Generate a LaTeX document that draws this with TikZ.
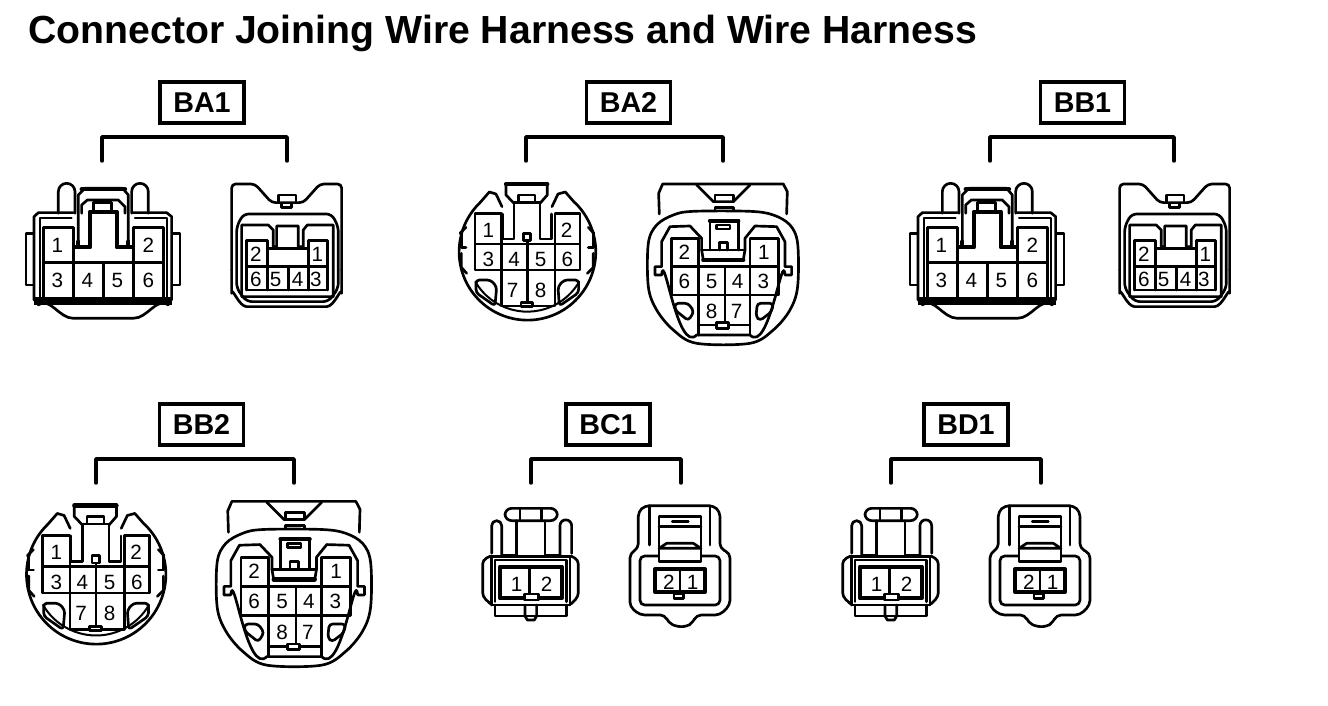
\documentclass[tikz,border=0pt]{standalone}
\usepackage{fontspec}
\setmainfont{Liberation Sans}
\tikzstyle{part}=[line width=2pt, line join=round, line cap=round]
\tikzstyle{fine}=[line width=1.5pt, line join=round, line cap=round]
\tikzstyle{heavy}=[line width=3.2pt, line join=round, line cap=round]
\tikzstyle{pinlabel}=[inner sep=0pt, font=\fontsize{15.5}{16}\selectfont]
\tikzstyle{harnessbox}=[draw, line width=2.6pt, minimum width=63pt, minimum height=30.5pt, inner sep=0pt, font=\fontsize{21.5}{22}\bfseries\selectfont]
\tikzstyle{bracket}=[line width=2.6pt, line cap=round, line join=round]

% label box and bracket above each pair
\newcommand{\harness}[6]{
    \node[harnessbox] (#1box) at (#3, #4) {#2};
    \coordinate (#1l) at (#5, #4+58.5);
    \coordinate (#1r) at (#6, #4+58.5);
    \draw[bracket] (#1l) -- ++(0, -24) -| (#1r);
}

% six pin plug
\newcommand{\plugsix}[3]{
    \begin{scope}[shift={(#2, #3)}, scale=0.3333]
        \draw[part] (145,430) -- (145,365) arc[start angle=180, end angle=360, radius=25] -- (195,430);
        \draw[part] (365,430) -- (365,365) arc[start angle=180, end angle=360, radius=25] -- (415,430);
        \draw[part] (205,515) -- (205,375) -- (225,355) -- (338,355) -- (355,375) -- (355,515);
        \draw[heavy] (215,358) -- (345,358);
        \draw[part] (215,430) -- (215,405) -- (232,390) -- (325,390) -- (345,410) -- (345,430);
        \draw[part] (250,420) -- (250,397) -- (305,397) -- (305,420);
        \draw[part] (72,690) -- (72,440) -- (85,428) -- (190,428);
        \draw[part] (370,428) -- (470,428) -- (485,440) -- (485,690);
        \draw[fine] (90,680) -- (90,445) -- (185,445);
        \draw[fine] (375,445) -- (470,445) -- (470,680);
        \draw[part] (68,490) -- (48,490) -- (48,645) -- (68,645);
        \draw[part] (490,490) -- (510,490) -- (510,645) -- (490,645);
        \draw[part] (100,680) -- (100,472) -- (190,472) -- (190,680);
        \draw[part] (370,680) -- (370,472) -- (460,472) -- (460,680);
        \draw[part] (100,578) -- (460,578);
        \draw[part] (280,578) -- (280,680);
        \draw[heavy] (195,532) -- (240,532) -- (240,425) -- (320,425) -- (320,532) -- (365,532);
        \draw[heavy] (205,515) -- (205,530);
        \draw[heavy] (355,515) -- (355,530);
        \draw[line width=6pt] (72,692) -- (485,692);
        \draw[part] (85,705) to[out=35,in=180] (190,745) -- (370,745) to[out=0,in=145] (475,705);
        \foreach \n/\a/\b in {1/142/527, 2/415/527, 3/142/632, 4/232/632, 5/322/632, 6/415/632}
            \node[pinlabel] (#1\n) at (\a, \b) {\n};
    \end{scope}
}

% six pin socket
\newcommand{\socksix}[3]{
    \begin{scope}[shift={(#2, #3)}, scale=0.3333]
        \draw[part, rounded corners=3pt] (665,600) -- (665,342) -- (735,342) -- (785,398) -- (880,398) -- (930,342) -- (995,342) -- (995,600);
        \draw[part] (665,600) -- (665,670) to[out=90,in=180] (710,710) -- (950,710) to[out=0,in=90] (995,670) -- (995,600);
        \draw[part] (805,396) -- (805,375) -- (858,375) -- (858,396);
        \draw[part] (815,400) -- (815,412) -- (845,412) -- (845,400);
        \draw[part, rounded corners=4pt] (680,560) -- (680,470) -- (700,432) -- (965,432) -- (985,470) -- (985,655) -- (955,695) -- (710,695) -- (680,655) -- cycle;
        \draw[part] (695,680) -- (695,465) -- (775,465) -- (790,480) -- (790,530) -- (800,530) -- (800,468) -- (865,468) -- (865,530) -- (880,530) -- (880,480) -- (892,465) -- (970,465) -- (970,680) -- cycle;
        \draw[part] (710,660) -- (710,512) -- (772,512) -- (772,660);
        \draw[part] (895,660) -- (895,512) -- (952,512) -- (952,660);
        \draw[part] (710,660) -- (952,660);
        \draw[part] (710,590) -- (952,590);
        \draw[part] (772,535) -- (895,535);
        \draw[part] (835,590) -- (835,660);
        \foreach \n/\a/\b in {2/738/552, 1/922/552, 6/738/628, 5/797/628, 4/863/628, 3/918/628}
            \node[pinlabel] (#1\n) at (\a, \b) {\n};
    \end{scope}
}

% eight pin round plug
\newcommand{\plugeight}[4]{
    \begin{scope}[shift={(#2, #3)}, scale=#4*0.3333]
        \draw[part] (120,98) arc[start angle=226, end angle=-46, radius=205];
        \draw[fine] (106,335) arc[start angle=150, end angle=30, radius=180];
        \draw[part] (120,98) -- (148,66) -- (168,72) -- (186,110);
        \draw[part] (404,98) -- (376,66) -- (354,72) -- (336,110);
        \draw[part] (60,190) -- (78,172);
        \draw[part] (64,190) -- (64,232) -- (78,232);
        \draw[part] (64,250) -- (64,292) -- (80,310);
        \draw[part] (462,190) -- (445,172);
        \draw[part] (460,190) -- (460,232) -- (445,232);
        \draw[part] (460,250) -- (460,292) -- (442,310);
        \draw[part] (198,40) -- (198,75) -- (222,100);
        \draw[part] (322,40) -- (322,75) -- (300,100);
        \draw[heavy] (198,43) -- (322,43);
        \draw[part] (235,95) -- (235,75) -- (285,75) -- (285,95);
        \draw[part] (188,132) -- (188,207) -- (222,207) -- (222,97) -- (300,97) -- (300,207) -- (335,207) -- (335,132);
        \draw[part] (105,222) -- (105,130) -- (185,130) -- (185,222);
        \draw[part] (345,222) -- (345,130) -- (420,130) -- (420,222);
        \draw[part] (105,222) -- (420,222) -- (420,300) -- (105,300) -- cycle;
        \draw[part] (185,222) -- (185,408) -- (345,408) -- (345,222);
        \draw[part] (262,215) -- (262,398);
        \draw[part] (250,190) rectangle (272,212);
        \draw[part, fill=white] (243,398) rectangle (278,410);
        \draw[part, rounded corners=2.5pt] (108,350) -- (108,330) -- (152,330) -- (170,350) -- (165,408) -- (108,368) -- cycle;
        \draw[part, rounded corners=2.5pt] (416,350) -- (416,330) -- (372,330) -- (354,350) -- (358,408) -- (416,368) -- cycle;
        \foreach \n/\a/\b in {1/145/180, 2/380/180, 3/145/268, 4/222/268, 5/302/268, 6/382/268, 7/218/360, 8/302/360}
            \node[pinlabel] (#1\n) at (\a, \b) {\n};
    \end{scope}
}

% eight pin round socket
\newcommand{\sockeight}[4]{
    \begin{scope}[shift={(#2, #3)}, scale=#4*0.3333]
        \draw[part] (658,132) -- (656,70) -- (668,42) -- (1030,42) -- (1042,65) -- (1040,132);
        \draw[part] (770,45) -- (820,95) -- (880,95) -- (930,45);
        \draw[part] (825,95) -- (825,75) -- (880,75) -- (880,95);
        \draw[part] (825,122) -- (825,112) -- (880,112) -- (880,122);
        \draw[part] plot[smooth cycle, tension=0.55] coordinates {(625,220) (650,165) (700,135) (760,124) (930,124) (1000,135) (1050,165) (1073,220) (1073,350) (1050,420) (1000,480) (930,520) (770,520) (700,480) (650,420) (625,350)};
        \draw[part] (785,240) -- (785,205) -- (750,168) -- (690,170) -- (665,215) -- (665,290) -- (645,290) -- (645,315) -- (665,315) to[out=85,in=-135] (770,495) -- (930,495) to[out=-45,in=95] (1035,315) -- (1055,315) -- (1055,290) -- (1035,290) -- (1035,215) -- (1010,170) -- (945,168) -- (915,205) -- (915,240);
        \draw[part] (695,290) -- (695,205) -- (775,205) -- (775,290);
        \draw[part] (930,290) -- (930,205) -- (1015,205) -- (1015,290);
        \draw[part] (695,290) rectangle (1015,375);
        \draw[part] (775,290) -- (775,495);
        \draw[part] (855,290) -- (855,460);
        \draw[part] (930,290) -- (930,495);
        \draw[part] (775,465) -- (930,465);
        \draw[part, fill=white] (830,458) rectangle (865,475);
        \draw[part] (810,240) -- (810,150) -- (895,150) -- (895,240);
        \draw[heavy] (810,152) -- (895,152);
        \draw[part] (830,165) rectangle (870,177);
        \draw[part] (838,240) -- (838,218) -- (862,218) -- (862,240);
        \draw[part] (785,240) -- (915,240);
        \draw[heavy] (790,270) -- (910,270);
        \draw[part] (785,240) -- (790,270);
        \draw[part] (915,240) -- (910,270);
        \draw[part, rounded corners=2.5pt] (725,400) -- (745,400) -- (762,425) -- (745,452) -- (705,420) -- (705,400) -- cycle;
        \draw[part, rounded corners=2.5pt] (975,400) -- (952,400) -- (948,440) -- (960,452) -- (995,425) -- (1000,400) -- cycle;
        \foreach \n/\a/\b in {2/733/247, 1/972/247, 6/733/335, 5/815/335, 4/893/335, 3/970/335, 8/815/425, 7/890/425}
            \node[pinlabel] (#1\n) at (\a, \b) {\n};
    \end{scope}
}

% two pin plug
\newcommand{\plugtwo}[3]{
    \begin{scope}[shift={(#2, #3)}, scale=0.3333]
        \draw[part, rounded corners=5pt] (105,55) rectangle (262,92);
        \draw[part] (150,55) -- (150,92);
        \draw[part] (215,55) -- (215,92);
        \draw[part] (140,92) -- (140,197) -- (100,197);
        \draw[part] (225,92) -- (225,197) -- (270,197);
        \draw[part] (65,190) -- (65,107) arc[start angle=180, end angle=360, radius=15] -- (95,195);
        \draw[part] (270,195) -- (270,107) arc[start angle=180, end angle=360, radius=17.5] -- (305,190);
        \draw[part] (65,345) -- (65,200) -- (300,200) -- (300,345);
        \draw[part] (75,335) -- (75,210) -- (290,210) -- (290,335);
        \draw[part, rounded corners=3pt] (62,198) -- (38,210) -- (38,320) -- (62,342);
        \draw[part, rounded corners=3pt] (303,198) -- (325,210) -- (325,320) -- (303,342);
        \draw[heavy] (90,325) -- (90,230) -- (275,230) -- (275,325) -- cycle;
        \draw[part] (178,230) -- (178,312);
        \draw[part, fill=white] (163,312) rectangle (205,330);
        \draw[part] (65,345) -- (300,345);
        \draw[part] (75,345) -- (75,378) -- (290,378) -- (290,345);
        \draw[part] (165,345) -- (165,378) -- (172,390) -- (193,390) -- (200,378) -- (200,345);
        \foreach \n/\a/\b in {1/140/282, 2/230/282}
            \node[pinlabel] (#1\n) at (\a, \b) {\n};
    \end{scope}
}

% two pin socket
\newcommand{\socktwo}[3]{
    \begin{scope}[shift={(#2, #3)}, scale=0.3333]
        \draw[part, rounded corners=3.5pt] (505,120) -- (505,65) -- (525,47) -- (730,47) -- (750,65) -- (750,175) -- (780,190) -- (780,345) -- (750,375) -- (680,375) -- (668,398) -- (650,410) -- (620,410) -- (595,398) -- (585,375) -- (510,375) -- (480,350) -- (480,190) -- (505,175) -- cycle;
        \draw[part] (538,47) -- (538,165);
        \draw[part] (720,47) -- (720,165);
        \draw[part, rounded corners=3.5pt] (565,198) -- (510,198) -- (510,345) -- (750,345) -- (750,198) -- (695,198);
        \draw[part, fill=white] (567,80) rectangle (693,215);
        \draw[part] (567,110) -- (693,110);
        \draw[part] (607,95) -- (655,95);
        \draw[part] (567,175) -- (590,160) -- (670,160) -- (693,175) -- cycle;
        \draw[heavy] (555,305) -- (555,238) -- (705,238) -- (705,305) -- cycle;
        \draw[part] (630,238) -- (630,310);
        \draw[part, fill=white] (612,310) rectangle (640,325);
        \foreach \n/\a/\b in {2/597/277, 1/668/277}
            \node[pinlabel] (#1\n) at (\a, \b) {\n};
    \end{scope}
}

\begin{document}
\begin{tikzpicture}[x=0.75pt, y=-0.75pt]
    \useasboundingbox (0, 0) rectangle (1328, 706);
    \node[anchor=base west, inner sep=0pt, font=\fontsize{29.4}{30}\bfseries\selectfont] (title) at (28, 43.5) {Connector Joining Wire Harness and Wire Harness};

    \harness{ba1}{BA1}{202}{102.5}{102}{287}
    \harness{ba2}{BA2}{628.5}{102.5}{526}{723}
    \harness{bb1}{BB1}{1082.5}{102.5}{990}{1174}
    \harness{bb2}{BB2}{201.5}{424.5}{96}{294}
    \harness{bc1}{BC1}{608}{424.5}{531}{681}
    \harness{bd1}{BD1}{966}{424.5}{891}{1041}

    \plugsix{ba1a}{10}{70}
    \socksix{ba1b}{10}{70}
    \plugeight{ba2a}{440}{170}{1}
    \sockeight{ba2b}{440}{170}{1}
    \plugsix{bb1a}{894}{70}
    \socksix{bb1b}{898}{70}
    \plugeight{bb2a}{7}{491}{1.02}
    \sockeight{bb2b}{3}{487}{1.028}
    \plugtwo{bc1a}{470}{490}
    \socktwo{bc1b}{470}{490}
    \plugtwo{bd1a}{830}{490}
    \socktwo{bd1b}{830}{490}
\end{tikzpicture}
\end{document}
